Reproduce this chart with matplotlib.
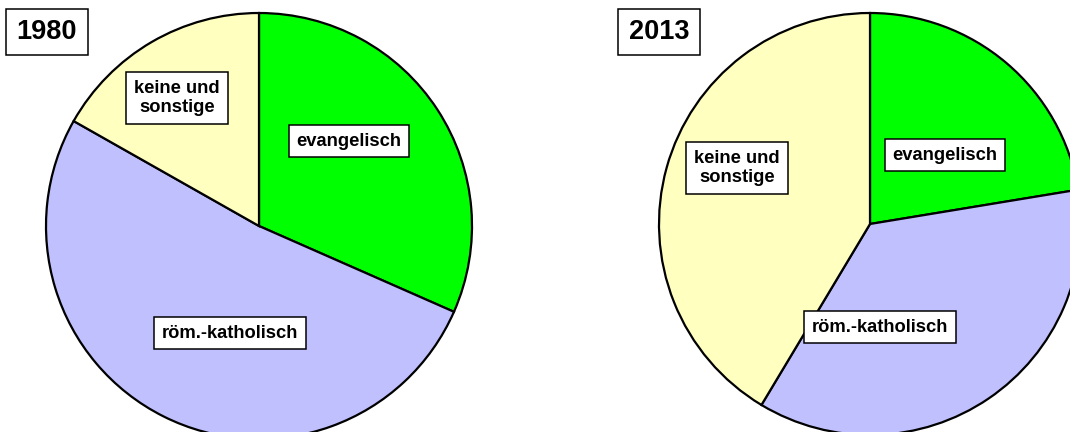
import matplotlib
matplotlib.use("Agg")
import matplotlib.pyplot as plt

plt.rcParams['font.family'] = ['Liberation Sans', 'DejaVu Sans']

# shares in percent
categories = ["evangelisch", "röm.-katholisch", "keine und\nsonstige"]
shares_1980 = [31.6, 51.6, 16.8]
shares_2013 = [22.4, 36.2, 41.4]
years = ["1980", "2013"]
colors = ["#00FF00", "#C0C0FF", "#FFFFC0"]

W, H = 1070, 432
fig = plt.figure(figsize=(W / 100, H / 100), dpi=100)
ax = fig.add_axes([0, 0, 1, 1])

pies = [
    (shares_1980, (259, H - 226), 213),
    (shares_2013, (870, H - 224), 211),
]
for values, center, radius in pies:
    ax.pie(values, colors=colors, startangle=90, counterclock=False,
           center=center, radius=radius, frame=True,
           wedgeprops=dict(edgecolor="black", linewidth=1.6))

box = dict(boxstyle="square,pad=0.42", facecolor="white",
           edgecolor="black", linewidth=1.1)

# label positions (pixel coords, y from top)
label_pos = [
    [(349, 141), (230, 333), (177, 98)],
    [(945, 155), (880, 327), (737, 168)],
]
for positions in label_pos:
    for cat, (x, y) in zip(categories, positions):
        ax.text(x, H - y, cat, ha="center", va="center", fontsize=13.2,
                fontweight="bold", bbox=box, linespacing=1.2)

year_pos = [(47, 32), (659, 32)]
for yr, (x, y) in zip(years, year_pos):
    ax.text(x, H - y, yr, ha="center", va="center", fontsize=19.5,
            fontweight="bold",
            bbox=dict(boxstyle="square,pad=0.38", facecolor="white",
                      edgecolor="black", linewidth=1.1))

ax.set_xlim(0, W)
ax.set_ylim(0, H)
ax.set_aspect("auto")
ax.axis("off")

fig.savefig("out.png", dpi=100)
